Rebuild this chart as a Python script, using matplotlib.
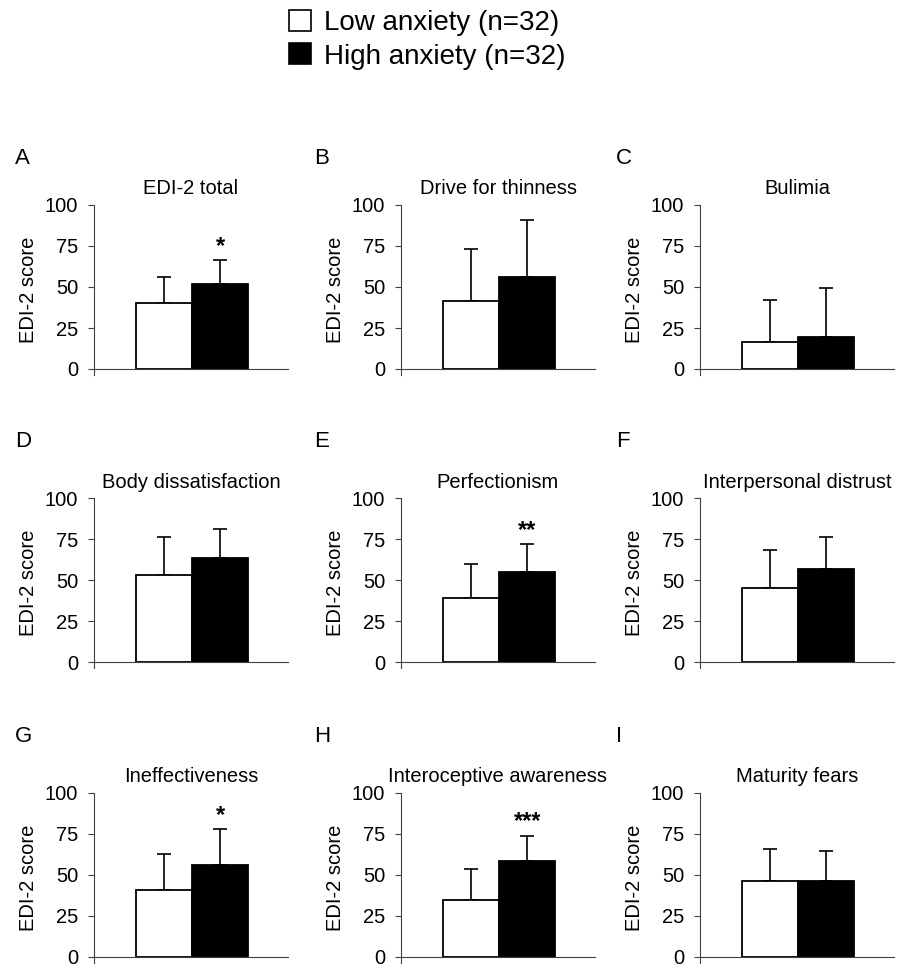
import matplotlib
matplotlib.use('Agg')
import matplotlib.pyplot as plt
from matplotlib.patches import Patch

plt.rcParams['font.family'] = ['Liberation Sans', 'DejaVu Sans']

letters = ['A', 'B', 'C', 'D', 'E', 'F', 'G', 'H', 'I']
titles = ['EDI-2 total', 'Drive for thinness', 'Bulimia',
          'Body dissatisfaction', 'Perfectionism', 'Interpersonal distrust',
          'Ineffectiveness', 'Interoceptive awareness', 'Maturity fears']
low_mean = [40.2, 41.3, 16.6, 53.3, 39.2, 45.5, 40.7, 34.4, 46.2]
low_sd = [16.1, 32.0, 25.7, 23.3, 21.0, 22.8, 22.1, 19.2, 19.4]
high_mean = [52.0, 55.9, 19.6, 63.9, 55.1, 56.7, 55.9, 58.1, 46.2]
high_sd = [14.2, 35.0, 29.6, 17.2, 16.8, 19.4, 21.8, 15.8, 18.0]
stars = ['*', '', '', '', '**', '', '*', '***', '']
yticks = [0, 25, 50, 75, 100]

W, H = 898, 968
fig = plt.figure(figsize=(W / 100, H / 100), dpi=100)

col_left = [94, 401, 700]
row_top = [205, 498.3, 792.7]   # pixel y of the 100 level
letter_base = [164, 447, 742]
letter_x = [15, 314, 616]
ax_w = 194
px_per_unit = 1.64
below = 6  # px the y spine runs below zero
ax_h = 100 * px_per_unit + below

bw = 0.29
xc = 0.506

for i in range(9):
    r, c = divmod(i, 3)
    left = col_left[c] / W
    bottom = (H - (row_top[r] + ax_h)) / H
    ax = fig.add_axes([left, bottom, ax_w / W, ax_h / H])

    xs = [xc - bw / 2, xc + bw / 2]
    means = [low_mean[i], high_mean[i]]
    sds = [low_sd[i], high_sd[i]]
    ax.bar(xs, means, width=bw, color=['white', 'black'],
           edgecolor='black', linewidth=1.3, zorder=2)
    ax.errorbar(xs, means, yerr=[[0, 0], sds], fmt='none', ecolor='black',
                elinewidth=1.2, capsize=5, capthick=1.2, zorder=1)
    if stars[i]:
        ax.text(xs[1], high_mean[i] + high_sd[i] + 1.5, stars[i],
                ha='center', va='bottom', fontsize=17, fontweight='bold')

    ax.set_xlim(0, 1)
    ax.set_ylim(-below / px_per_unit, 100)
    ax.set_yticks(yticks)
    ax.set_xticks([])
    ax.tick_params(axis='y', direction='out', length=4.5, width=0.8,
                   pad=7, labelsize=14.5, color='#404040')
    for s in ['top', 'right']:
        ax.spines[s].set_visible(False)
    ax.spines['bottom'].set_position(('data', 0))
    ax.spines['left'].set_color('#404040')
    ax.spines['bottom'].set_color('#404040')
    ax.spines['left'].set_linewidth(0.8)
    ax.spines['bottom'].set_linewidth(0.8)
    ax.set_ylabel('EDI-2 score', fontsize=14.5, labelpad=5)
    ax.set_title(titles[i], fontsize=14.5, pad=7.7)
    ax.patch.set_alpha(0)

    fig.text(letter_x[c] / W, 1 - letter_base[r] / H, letters[i],
             fontsize=16, ha='left', va='baseline')

handles = [Patch(facecolor='white', edgecolor='black', linewidth=1.2),
           Patch(facecolor='black', edgecolor='black', linewidth=1.2)]
fig.legend(handles, ['Low anxiety (n=32)', 'High anxiety (n=32)'],
           loc='upper left', bbox_to_anchor=(289 / W, 1 - 10 / H),
           frameon=False, fontsize=20, handlelength=0.8, handleheight=0.8,
           handletextpad=0.45, labelspacing=0.25, borderpad=0, borderaxespad=0)

fig.savefig('out.png', dpi=100)
